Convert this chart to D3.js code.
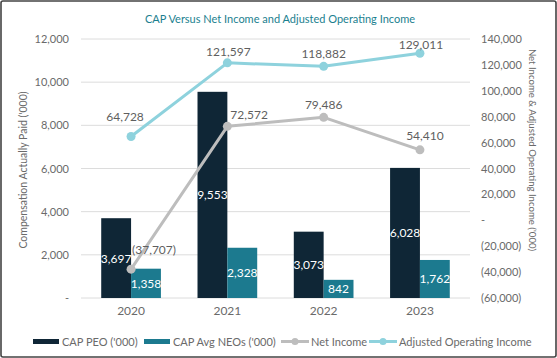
<!DOCTYPE html>
<html>
<head>
<meta charset="utf-8">
<script src="https://cdn.jsdelivr.net/npm/d3@7/dist/d3.min.js"></script>
<style>
  html, body { margin: 0; padding: 0; background: #fff; }
  svg { display: block; font-family: Lato, "Open Sans", sans-serif; }
</style>
</head>
<body>
<svg id="chart" width="557" height="358"></svg>
<script>
// ---- Data ----
const years = ["2020", "2021", "2022", "2023"];
const capPEO = [3697, 9553, 3073, 6028];
const capNEO = [1358, 2328, 842, 1762];
const netIncome = [-37707, 72572, 79486, 54410];
const adjOpIncome = [64728, 121597, 118882, 129011];
const leftTicks = [0, 2000, 4000, 6000, 8000, 10000, 12000];
const rightTicks = [-60000, -40000, -20000, 0, 20000, 40000, 60000, 80000, 100000, 120000, 140000];
const seriesNames = ["CAP PEO ('000)", "CAP Avg NEOs ('000)", "Net Income", "Adjusted Operating Income"];

// label offsets (layout only)
const netLabelOffsets = [[1, -20, "start"], [3, -12, "start"], [0, -13, "middle"], [5, -14, "middle"]];
const aoiLabelOffsets = [[-6, -20, "middle"], [1, -11, "middle"], [0, -13, "middle"], [1, -9, "middle"]];

const colors = { peo: "#0f2636", neo: "#1c7a8f", net: "#bdbdbd", aoi: "#8ed2dd", text: "#5f5f5f", axis: "#6a6a6a", grid: "#dcdcdc", title: "#1b7f8f" };

const svg = d3.select("#chart");
const W = 557, H = 358;
const plot = { left: 81, right: 470, top: 39, bottom: 298 };

// border
svg.append("rect").attr("x", 1).attr("y", 1).attr("width", W - 2).attr("height", H - 2)
  .attr("rx", 2).attr("fill", "#fff").attr("stroke", "#444").attr("stroke-width", 1.6);

// title
svg.append("text").attr("x", 280).attr("y", 18).attr("text-anchor", "middle")
  .attr("dominant-baseline", "central").attr("font-size", 11).attr("fill", colors.title)
  .text("CAP Versus Net Income and Adjusted Operating Income");

const x = d3.scaleBand().domain(years).range([plot.left, plot.right]).paddingInner(0.38).paddingOuter(0.21);
const xSub = d3.scaleBand().domain(["peo", "neo"]).range([0, x.bandwidth()]);
const yL = d3.scaleLinear().domain([0, 12000]).range([plot.bottom, plot.top]);
const yR = d3.scaleLinear().domain([-60000, 140000]).range([plot.bottom, plot.top]);

const fmt = d3.format(",");
const fmtR = v => v === 0 ? "-" : (v < 0 ? "(" + fmt(-v) + ")" : fmt(v));
const fmtL = v => v === 0 ? "-" : fmt(v);

// gridlines
svg.append("g").selectAll("line").data(leftTicks).join("line")
  .attr("x1", plot.left).attr("x2", plot.right)
  .attr("y1", d => yL(d)).attr("y2", d => yL(d))
  .attr("stroke", colors.grid).attr("stroke-width", 1);

// left axis
const axL = svg.append("g").attr("transform", `translate(${plot.left - 12},0)`)
  .call(d3.axisLeft(yL).tickValues(leftTicks).tickFormat(fmtL).tickSize(0).tickPadding(0));
axL.select(".domain").remove();
axL.selectAll("text").attr("font-size", 11).attr("fill", colors.axis).attr("font-family", "Lato, sans-serif");

// right axis
const axR = svg.append("g").attr("transform", `translate(${plot.right + 11},0)`)
  .call(d3.axisRight(yR).tickValues(rightTicks).tickFormat(fmtR).tickSize(0).tickPadding(0));
axR.select(".domain").remove();
axR.selectAll("text").attr("font-size", 11).attr("fill", colors.axis).attr("font-family", "Lato, sans-serif");

// x axis
const axX = svg.append("g").attr("transform", `translate(0,${plot.bottom})`)
  .call(d3.axisBottom(x).tickSize(0).tickPadding(8));
axX.select(".domain").remove();
axX.selectAll("text").attr("font-size", 12).attr("fill", colors.axis).attr("font-family", "Lato, sans-serif");

// axis titles
svg.append("text").attr("transform", "translate(23,170) rotate(-90)")
  .attr("text-anchor", "middle").attr("dominant-baseline", "central")
  .attr("font-size", 10.5).attr("fill", colors.axis).text("Compensation Actually Paid ('000)");
svg.append("text").attr("transform", "translate(532,150) rotate(90)")
  .attr("text-anchor", "middle").attr("dominant-baseline", "central")
  .attr("font-size", 9.6).attr("fill", colors.axis).text("Net Income & Adjusted Operating Income ('000)");

// bars
const barData = years.map((y, i) => ({ year: y, peo: capPEO[i], neo: capNEO[i] }));
const groups = svg.append("g").selectAll("g").data(barData).join("g")
  .attr("transform", d => `translate(${x(d.year)},0)`);
["peo", "neo"].forEach(key => {
  groups.append("rect")
    .attr("x", xSub(key)).attr("width", xSub.bandwidth())
    .attr("y", d => yL(d[key])).attr("height", d => yL(0) - yL(d[key]))
    .attr("fill", colors[key]);
  groups.append("text")
    .attr("x", xSub(key) + xSub.bandwidth() / 2)
    .attr("y", d => (yL(d[key]) + yL(0)) / 2)
    .attr("text-anchor", "middle").attr("dominant-baseline", "central")
    .attr("font-size", 12).attr("fill", "#fff")
    .text(d => fmt(d[key]));
});

// lines
function drawLine(values, color, offsets) {
  const pts = years.map((y, i) => ({ year: y, v: values[i], off: offsets[i] }));
  const cx = d => x(d.year) + x.bandwidth() / 2;
  svg.append("path").datum(pts)
    .attr("d", d3.line().x(cx).y(d => yR(d.v)))
    .attr("fill", "none").attr("stroke", color).attr("stroke-width", 3)
    .attr("stroke-linejoin", "round");
  svg.append("g").selectAll("circle").data(pts).join("circle")
    .attr("cx", cx).attr("cy", d => yR(d.v)).attr("r", 4.5).attr("fill", color);
  svg.append("g").selectAll("text").data(pts).join("text")
    .attr("x", d => cx(d) + d.off[0]).attr("y", d => yR(d.v) + d.off[1])
    .attr("text-anchor", d => d.off[2]).attr("dominant-baseline", "central")
    .attr("font-size", 12).attr("fill", colors.text)
    .text(d => fmtR(d.v));
}
drawLine(netIncome, colors.net, netLabelOffsets);
drawLine(adjOpIncome, colors.aoi, aoiLabelOffsets);

// legend
const legY = 341.5;
const leg = svg.append("g");
const legendItems = [
  { name: seriesNames[0], type: "bar", color: colors.peo, x: 33 },
  { name: seriesNames[1], type: "bar", color: colors.neo, x: 144 },
  { name: seriesNames[2], type: "line", color: colors.net, x: 281 },
  { name: seriesNames[3], type: "line", color: colors.aoi, x: 369 }
];
legendItems.forEach(it => {
  if (it.type === "bar") {
    leg.append("rect").attr("x", it.x).attr("y", legY - 2.5).attr("width", 26).attr("height", 5).attr("fill", it.color);
  } else {
    leg.append("line").attr("x1", it.x).attr("x2", it.x + 28).attr("y1", legY).attr("y2", legY)
      .attr("stroke", it.color).attr("stroke-width", 3);
    leg.append("circle").attr("cx", it.x + 14).attr("cy", legY).attr("r", 3.5).attr("fill", it.color);
  }
  leg.append("text").attr("x", it.x + (it.type === "bar" ? 29 : 30)).attr("y", legY)
    .attr("dominant-baseline", "central").attr("font-size", 11).attr("fill", colors.axis).text(it.name);
});
</script>
</body>
</html>
